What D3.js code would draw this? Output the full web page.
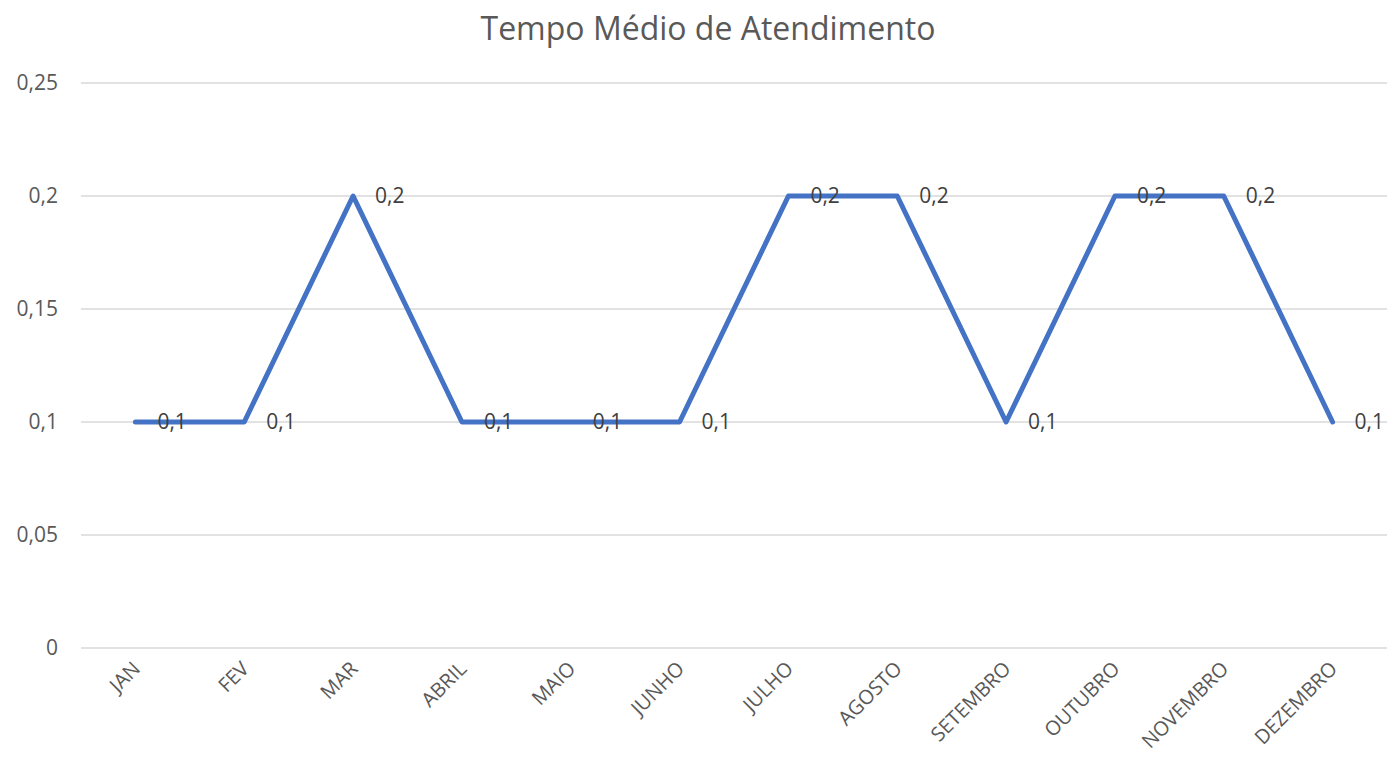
<!DOCTYPE html>
<html>
<head>
<meta charset="utf-8">
<script src="https://cdn.jsdelivr.net/npm/d3@7"></script>
<style>
  body { margin: 0; background: #fff; }
  svg text { font-family: "Open Sans", "Noto Sans", sans-serif; fill: #595959; }
</style>
</head>
<body>
<div id="chart"></div>
<script>
var months = ["JAN", "FEV", "MAR", "ABRIL", "MAIO", "JUNHO", "JULHO", "AGOSTO", "SETEMBRO", "OUTUBRO", "NOVEMBRO", "DEZEMBRO"];
var tempo = [0.1, 0.1, 0.2, 0.1, 0.1, 0.1, 0.2, 0.2, 0.1, 0.2, 0.2, 0.1];
var yTicks = [0, 0.05, 0.1, 0.15, 0.2, 0.25];

var width = 1389, height = 763;
var margin = { top: 83, right: 2, bottom: 115, left: 81 };

var svg = d3.select("#chart").append("svg")
  .attr("width", width)
  .attr("height", height);

var x = d3.scaleBand()
  .domain(months)
  .range([margin.left, width - margin.right]);

var y = d3.scaleLinear()
  .domain([0, 0.25])
  .range([height - margin.bottom, margin.top]);

var fmt = function (d) { return String(d).replace(".", ","); };

// title
svg.append("text")
  .attr("x", 708)
  .attr("y", 40)
  .attr("text-anchor", "middle")
  .style("font-size", "32px")
  .text("Tempo Médio de Atendimento");

// gridlines
svg.append("g").selectAll("line")
  .data(yTicks)
  .enter().append("line")
  .attr("x1", margin.left)
  .attr("x2", width - margin.right)
  .attr("y1", d => y(d))
  .attr("y2", d => y(d))
  .attr("stroke", "#d9d9d9")
  .attr("stroke-width", 1.3);

// y labels
svg.append("g").selectAll("text")
  .data(yTicks)
  .enter().append("text")
  .attr("x", 58)
  .attr("y", d => y(d))
  .attr("dy", "0.35em")
  .attr("text-anchor", "end")
  .style("font-size", "21px")
  .text(fmt);

// x labels
svg.append("g").selectAll("text")
  .data(months)
  .enter().append("text")
  .attr("text-anchor", "end")
  .attr("transform", d => "translate(" + (x(d) + x.bandwidth() / 2 + 6) + "," + 670 + ") rotate(-45)")
  .style("font-size", "20px")
  .text(d => d);

// line
var line = d3.line()
  .x((d, i) => x(months[i]) + x.bandwidth() / 2)
  .y(d => y(d));

svg.append("path")
  .datum(tempo)
  .attr("d", line)
  .attr("fill", "none")
  .attr("stroke", "#4472c4")
  .attr("stroke-width", 5)
  .attr("stroke-linejoin", "round")
  .attr("stroke-linecap", "round");

// data labels
svg.append("g").selectAll("text")
  .data(tempo)
  .enter().append("text")
  .attr("x", (d, i) => x(months[i]) + x.bandwidth() / 2 + 22)
  .attr("y", d => y(d))
  .attr("dy", "0.35em")
  .style("font-size", "21px")
  .style("fill", "#404040")
  .text(fmt);
</script>
</body>
</html>
